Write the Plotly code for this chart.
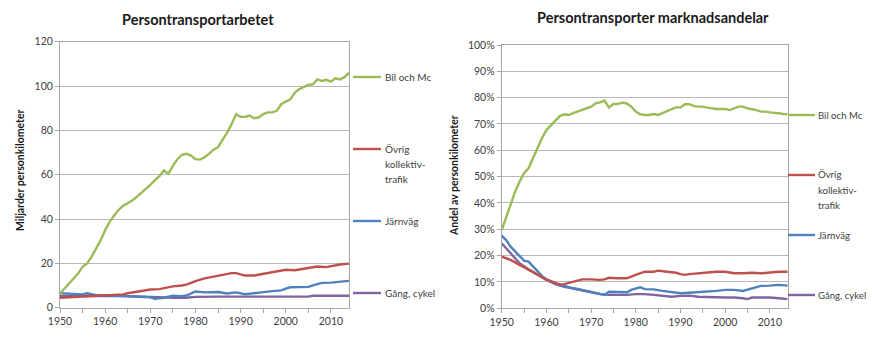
import plotly.graph_objects as go

# ---------------- Data: Persontransportarbetet (miljarder personkilometer) ----------------
bil_years = list(range(1950, 2015))
bil_pkm = [6.4, 8.7, 11.0, 13.2, 15.4, 18.4, 20.0, 23.0, 26.7, 30.4,
           35.0, 38.7, 41.6, 44.2, 46.0, 47.2, 48.4, 50.0, 51.7, 53.6,
           55.4, 57.4, 59.3, 61.9, 60.4, 64.0, 67.0, 69.0, 69.4, 68.6,
           67.0, 66.8, 67.9, 69.4, 71.3, 72.4, 75.4, 79.0, 82.8, 87.3,
           86.1, 86.1, 86.7, 85.5, 85.8, 87.3, 88.1, 88.1, 88.8, 91.8,
           93.0, 94.0, 97.0, 98.6, 99.6, 100.5, 100.8, 103.0, 102.3, 102.8,
           102.0, 103.5, 103.0, 104.0, 106.0]

ovrig_years = [1950, 1955, 1960, 1963, 1964, 1965, 1967, 1969, 1970, 1972, 1974, 1975,
               1977, 1978, 1980, 1982, 1984, 1986, 1988, 1989, 1990, 1991, 1993, 1995,
               1997, 1999, 2000, 2002, 2003, 2005, 2007, 2009, 2010, 2012, 2014]
ovrig_pkm = [4.5, 5.0, 5.4, 5.6, 6.0, 6.5, 7.3, 8.0, 8.2, 8.4, 9.4, 9.6,
             10.0, 10.4, 12.0, 13.2, 14.0, 14.9, 15.6, 15.6, 15.2, 14.5, 14.5, 15.2,
             16.0, 16.7, 17.1, 16.9, 17.2, 18.0, 18.6, 18.3, 18.7, 19.5, 19.9]

jarnvag_years = [1950, 1952, 1955, 1956, 1958, 1960, 1965, 1968, 1970, 1971, 1973,
                 1975, 1977, 1978, 1979, 1980, 1982, 1985, 1987, 1989, 1991, 1993,
                 1995, 1997, 1999, 2000, 2001, 2003, 2005, 2006, 2007, 2008, 2010,
                 2012, 2014]
jarnvag_pkm = [6.5, 6.2, 6.0, 6.5, 5.6, 5.6, 5.3, 5.0, 4.7, 4.0, 4.5,
               5.4, 5.2, 5.5, 6.4, 7.3, 6.9, 7.1, 6.4, 6.9, 6.1, 6.4,
               7.0, 7.5, 7.8, 8.6, 9.2, 9.3, 9.4, 10.1, 10.8, 11.2, 11.3,
               11.6, 12.1]

gang_years = [1950, 1955, 1960, 1965, 1968, 1970, 1972, 1975, 1978, 1980, 1985,
              1990, 1995, 2000, 2005, 2006, 2010, 2014]
gang_pkm = [5.2, 5.4, 5.4, 5.2, 4.9, 4.7, 4.5, 4.5, 4.5, 4.9, 5.0,
            5.0, 5.0, 5.0, 5.0, 5.4, 5.4, 5.4]

# ---------------- Data: Persontransporter marknadsandelar (%) ----------------
bil_share_years = list(range(1950, 2015))
bil_share = [29.7, 34.8, 39.9, 44.3, 48.1, 51.3, 53.2, 57.0, 60.8, 64.6,
             67.7, 69.6, 71.5, 73.0, 73.7, 73.4, 74.1, 74.7, 75.3, 75.7,
             76.6, 77.8, 78.2, 78.9, 76.3, 77.6, 77.6, 78.1, 77.8, 76.6,
             74.7, 73.7, 73.4, 73.4, 73.8, 73.4, 74.3, 74.9, 75.6, 76.3,
             76.3, 77.5, 77.5, 76.8, 76.6, 76.6, 76.2, 75.9, 75.7, 75.7,
             75.7, 75.3, 75.9, 76.6, 76.6, 75.9, 75.6, 75.3, 74.7, 74.7,
             74.4, 74.3, 74.1, 73.8, 73.7]

ovrig_share_years = [1950, 1952, 1954, 1956, 1958, 1960, 1962, 1963, 1964, 1966, 1968,
                     1970, 1972, 1973, 1974, 1976, 1978, 1980, 1982, 1984, 1985, 1987,
                     1989, 1990, 1991, 1992, 1994, 1996, 1998, 2000, 2002, 2004, 2006,
                     2008, 2010, 2012, 2014]
ovrig_share = [19.6, 18.4, 16.5, 14.6, 12.6, 11.0, 9.7, 9.1, 9.2, 10.1, 11.0,
               11.0, 10.8, 11.0, 11.6, 11.4, 11.4, 12.7, 13.9, 13.9, 14.3, 13.9,
               13.5, 13.0, 12.7, 13.0, 13.3, 13.5, 13.9, 13.9, 13.3, 13.3, 13.5,
               13.3, 13.7, 13.9, 13.9]

jarnvag_share_years = [1950, 1951, 1952, 1953, 1954, 1955, 1956, 1957, 1958, 1959,
                       1960, 1962, 1964, 1966, 1968, 1970, 1972, 1973, 1974, 1976,
                       1978, 1979, 1980, 1981, 1982, 1984, 1986, 1988, 1990, 1992,
                       1994, 1996, 1998, 2000, 2002, 2004, 2006, 2008, 2010, 2012, 2014]
jarnvag_share = [27.6, 25.9, 23.4, 21.5, 19.6, 18.1, 17.7, 15.8, 13.9, 12.3,
                 11.0, 9.5, 8.5, 7.6, 7.0, 6.3, 5.7, 5.1, 6.3, 6.1,
                 6.1, 7.0, 7.6, 8.0, 7.3, 7.2, 6.6, 6.1, 5.7, 5.9,
                 6.1, 6.3, 6.6, 7.0, 7.0, 6.6, 7.6, 8.5, 8.6, 8.9, 8.6]

gang_share_years = [1950, 1952, 1954, 1956, 1958, 1960, 1962, 1964, 1966, 1968, 1970,
                    1972, 1974, 1976, 1978, 1980, 1982, 1984, 1986, 1988, 1990, 1992,
                    1994, 1996, 1998, 2000, 2002, 2004, 2005, 2006, 2008, 2010, 2012,
                    2014]
gang_share = [24.7, 20.9, 17.1, 14.8, 12.7, 10.8, 9.2, 8.2, 7.5, 6.7, 6.1,
              5.4, 5.1, 5.1, 5.1, 5.4, 5.4, 5.1, 4.8, 4.4, 4.7, 4.8,
              4.4, 4.4, 4.2, 4.1, 4.1, 3.8, 3.5, 4.1, 4.1, 4.1, 3.8,
              3.5]

# Labels (each inner list = lines of one legend label)
series_names = [["Bil och Mc"], ["Övrig", "kollektiv-", "trafik"], ["Järnväg"], ["Gång, cykel"]]
colors = ["#9BBB59", "#C0504D", "#4F81BD", "#8064A2"]
title_left = "Persontransportarbetet"
title_right = "Persontransporter marknadsandelar"
ytitle_left = "Miljarder personkilometer"
ytitle_right = "Andel av personkilometer"

W, H = 872, 339
FONT = "Lato, 'Open Sans', sans-serif"
TICKC = "#404040"
GRID = "#B8B8B8"
AXC = "#A6A6A6"
LW = 2.4


def px(x):
    return x / W


def py(y):
    return 1 - y / H


fig = go.Figure()

left_data = [(bil_years, bil_pkm), (ovrig_years, ovrig_pkm),
             (jarnvag_years, jarnvag_pkm), (gang_years, gang_pkm)]
right_data = [(bil_share_years, bil_share), (ovrig_share_years, ovrig_share),
              (jarnvag_share_years, jarnvag_share), (gang_share_years, gang_share)]

for i in [3, 2, 1, 0]:
    xs, ys = left_data[i]
    fig.add_trace(go.Scatter(x=xs, y=ys, mode="lines", line=dict(color=colors[i], width=LW),
                             xaxis="x", yaxis="y", showlegend=False, hoverinfo="skip"))
for i in [3, 2, 1, 0]:
    xs, ys = right_data[i]
    fig.add_trace(go.Scatter(x=xs, y=ys, mode="lines", line=dict(color=colors[i], width=LW),
                             xaxis="x2", yaxis="y2", showlegend=False, hoverinfo="skip"))

xcommon = dict(range=[1950, 2014], dtick=10, tick0=1950, showgrid=False, zeroline=False,
               showline=True, linecolor=AXC, linewidth=1, mirror=True, automargin=False,
               ticks="outside", ticklen=4, tickcolor=AXC,
               minor=dict(dtick=5, ticks="outside", ticklen=4, tickcolor=AXC, showgrid=False),
               tickfont=dict(family=FONT, size=10.5, color=TICKC), fixedrange=True)
ycommon = dict(showgrid=True, gridcolor=GRID, gridwidth=1, zeroline=False,
               showline=True, linecolor=AXC, linewidth=1, mirror=True, automargin=False,
               ticks="outside", ticklen=4, tickcolor=AXC,
               tickfont=dict(family=FONT, size=10.5, color=TICKC), fixedrange=True)

fig.update_layout(
    width=W, height=H,
    margin=dict(l=0, r=0, t=0, b=0),
    paper_bgcolor="white", plot_bgcolor="white",
    font=dict(family=FONT, size=10, color=TICKC),
    xaxis=dict(domain=[px(60), px(349)], anchor="y", **xcommon),
    yaxis=dict(domain=[py(307.7), py(41.7)], anchor="x", range=[0, 120], dtick=20, **ycommon),
    xaxis2=dict(domain=[px(501.7), px(787.7)], anchor="y2", **xcommon),
    yaxis2=dict(domain=[py(308.3), py(45)], anchor="x2", range=[0, 100], dtick=10,
                ticksuffix="%", **ycommon),
)

annotations = []
shapes = []
# Titles
annotations.append(dict(text=f"<b>{title_left}</b>", x=px(198), y=py(19), xref="paper", yref="paper",
                        xanchor="center", yanchor="middle",
                        showarrow=False, font=dict(family=FONT, size=14.5, color="#1a1a1a")))
annotations.append(dict(text=f"<b>{title_right}</b>", x=px(653), y=py(17), xref="paper", yref="paper",
                        xanchor="center", yanchor="middle",
                        showarrow=False, font=dict(family=FONT, size=14.5, color="#1a1a1a")))
# Y titles
annotations.append(dict(text=f"<b>{ytitle_left}</b>", x=px(20), y=py(171), xref="paper", yref="paper",
                        xanchor="center", yanchor="middle",
                        showarrow=False, textangle=-90, font=dict(family=FONT, size=10.5, color="#1a1a1a")))
annotations.append(dict(text=f"<b>{ytitle_right}</b>", x=px(454), y=py(176), xref="paper", yref="paper",
                        xanchor="center", yanchor="middle",
                        showarrow=False, textangle=-90, font=dict(family=FONT, size=10.5, color="#1a1a1a")))

# Legends (line key + label)
left_leg_y = [77, 149, 221, 293]
right_leg_y = [115, 175, 235, 295]
LINE_GAP = 15
for i, lines in enumerate(series_names):
    for (x0, x1, tx, ly, fs) in [(353, 381, 383, left_leg_y[i], 10),
                                 (788, 815, 816, right_leg_y[i], 9.6)]:
        shapes.append(dict(type="line", xref="paper", yref="paper", x0=px(x0), x1=px(x1),
                           y0=py(ly), y1=py(ly), line=dict(color=colors[i], width=LW)))
        for k, txt in enumerate(lines):
            annotations.append(dict(text=txt, x=px(tx), y=py(ly + k * LINE_GAP), xref="paper",
                                    yref="paper", xanchor="left", yanchor="middle", align="left",
                                    showarrow=False, font=dict(family=FONT, size=fs, color=TICKC)))

fig.update_layout(annotations=annotations, shapes=shapes)
fig.write_html("out.html", config={"displayModeBar": False, "staticPlot": True},
               post_script="document.body.style.margin='0';document.body.style.padding='0';")
